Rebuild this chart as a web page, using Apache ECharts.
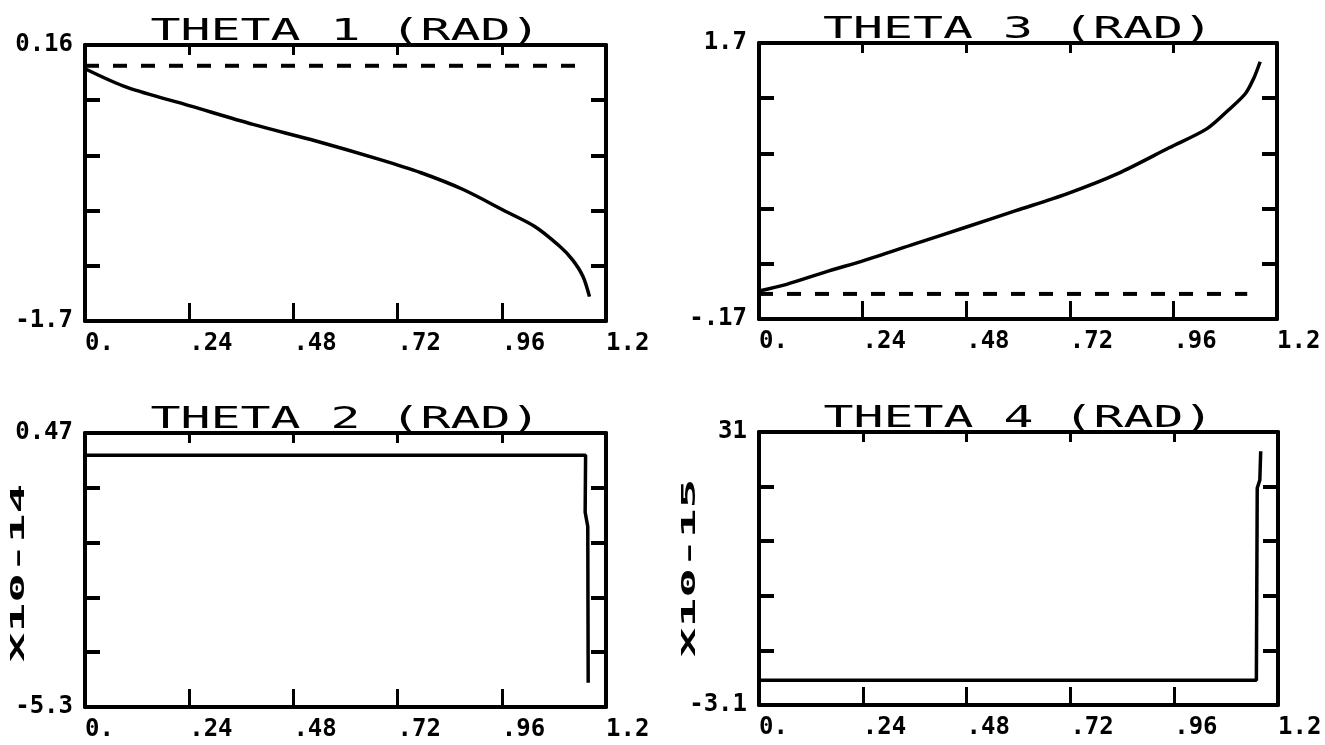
<!DOCTYPE html>
<html>
<head>
<meta charset="utf-8">
<script src="https://cdn.jsdelivr.net/npm/echarts@6/dist/echarts.min.js"></script>
<style>
html, body { margin: 0; background: #fff; }
#main { width: 1325px; height: 745px; }
</style>
</head>
<body>
<div id="main"></div>
<script>
// x axis (shared by all four panels)
var xTickLabels = ['0.', '.24', '.48', '.72', '.96', '1.2'];

// THETA 1 : solid curve + dashed reference
var theta1 = [[0, 0], [0.097, -0.126], [0.242, -0.25], [0.387, -0.375], [0.532, -0.487],
    [0.678, -0.611], [0.774, -0.701], [0.871, -0.814], [0.968, -0.96], [1.036, -1.063],
    [1.094, -1.198], [1.123, -1.288], [1.147, -1.40], [1.162, -1.536]];
var theta1Ref = [[0, 0.02], [1.138, 0.02]];

// THETA 3
var theta3 = [[0, 0.02], [0.064, 0.065], [0.162, 0.156], [0.241, 0.224], [0.359, 0.337],
    [0.477, 0.45], [0.595, 0.564], [0.713, 0.678], [0.831, 0.815], [0.95, 0.99],
    [1.038, 1.12], [1.087, 1.244], [1.127, 1.358], [1.146, 1.46], [1.161, 1.573]];
var theta3Ref = [[0, 0], [1.131, 0]];

// THETA 2 (x10-14)
var theta2 = [[0, 0], [1.153, 0], [1.152, -1.2], [1.158, -1.5], [1.159, -4.79]];

// THETA 4 (x10-15)
var theta4 = [[0, 0], [1.15, 0], [1.152, 24], [1.158, 25], [1.16, 28.6]];

// y axis ranges and end labels
var yRange1 = [-1.7, 0.16], yLabels1 = ['-1.7', '0.16'];
var yRange3 = [-0.17, 1.7], yLabels3 = ['-.17', '1.7'];
var yRange2 = [-5.3, 0.47], yLabels2 = ['-5.3', '0.47'];
var yRange4 = [-3.1, 31], yLabels4 = ['-3.1', '31'];

var font = "'DejaVu Sans Mono', monospace";

var panels = [
    { title: 'THETA 1 (RAD)', range: yRange1, labels: yLabels1, solid: theta1, dashed: theta1Ref,
      smooth: 0.3, left: 85, top: 45, width: 521, height: 276 },
    { title: 'THETA 3 (RAD)', range: yRange3, labels: yLabels3, solid: theta3, dashed: theta3Ref,
      smooth: 0.3, left: 759, top: 43, width: 518, height: 276 },
    { title: 'THETA 2 (RAD)', range: yRange2, labels: yLabels2, solid: theta2, name: 'X10-14',
      nameX: 19, nameY: 573, left: 85, top: 433, width: 521, height: 274 },
    { title: 'THETA 4 (RAD)', range: yRange4, labels: yLabels4, solid: theta4, name: 'X10-15',
      nameX: 690, nameY: 568, left: 759, top: 432, width: 519, height: 273 }
];

var black = '#000';
var grids = [], xAxes = [], yAxes = [], series = [], graphics = [];

panels.forEach(function (p, i) {
    var min = p.range[0], max = p.range[1];
    var step = (max - min) / 5;
    var yTicks = [min + step, min + 2 * step, min + 3 * step, min + 4 * step];

    grids.push({ left: p.left, top: p.top, width: p.width, height: p.height,
        containLabel: false, outerBoundsMode: 'none' });

    ['bottom', 'top'].forEach(function (pos) {
        xAxes.push({
            gridIndex: i,
            type: 'value',
            position: pos,
            min: 0,
            max: 1.2,
            interval: 0.24,
            axisLine: { show: true, onZero: false, lineStyle: { color: black, width: 4 } },
            axisTick: { show: true, inside: true, length: pos == 'bottom' ? 18 : 10,
                lineStyle: { color: black, width: 3 } },
            axisLabel: {
                show: pos == 'bottom',
                align: 'left',
                margin: 11,
                color: black,
                fontFamily: font,
                fontSize: 24,
                fontWeight: 'bold',
                showMinLabel: true,
                showMaxLabel: true,
                formatter: function (v) { return xTickLabels[Math.round(v / 0.24)]; }
            },
            splitLine: { show: false }
        });
    });

    ['left', 'right'].forEach(function (pos) {
        yAxes.push({
            gridIndex: i,
            type: 'value',
            position: pos,
            min: min,
            max: max,
            axisLine: { show: true, onZero: false, lineStyle: { color: black, width: 4 } },
            axisTick: { show: true, inside: true, length: 15, customValues: yTicks,
                lineStyle: { color: black, width: 4 } },
            axisLabel: {
                show: pos == 'left',
                customValues: [min, max],
                margin: 12,
                color: black,
                fontFamily: font,
                fontSize: 24,
                fontWeight: 'bold',
                showMinLabel: true,
                showMaxLabel: true,
                formatter: function (v) { return Math.abs(v - min) < 1e-9 ? p.labels[0] : p.labels[1]; }
            },
            splitLine: { show: false }
        });
    });

    series.push({
        type: 'line',
        xAxisIndex: 2 * i,
        yAxisIndex: 2 * i,
        data: p.solid,
        symbol: 'none',
        smooth: p.smooth || false,
        lineStyle: { color: black, width: 3.5 },
        z: 3
    });
    if (p.dashed) {
        series.push({
            type: 'line',
            xAxisIndex: 2 * i,
            yAxisIndex: 2 * i,
            data: p.dashed,
            symbol: 'none',
            lineStyle: { color: black, width: 4, type: [14, 14] },
            z: 3
        });
    }

    graphics.push({
        type: 'text',
        x: p.left + p.width / 2,
        y: p.top - 13,
        scaleX: 1.66,
        style: { text: p.title, fontFamily: font, fontSize: 30, fill: black,
            align: 'center', verticalAlign: 'middle',
            textAlign: 'center', textVerticalAlign: 'middle' }
    });
    if (p.name) {
        graphics.push({
            type: 'text',
            x: p.nameX,
            y: p.nameY,
            rotation: Math.PI / 2,
            scaleX: 2.6,
            style: { text: p.name, fontFamily: font, fontSize: 19, fontWeight: 'bold', fill: black,
                align: 'center', verticalAlign: 'middle',
                textAlign: 'center', textVerticalAlign: 'middle' }
        });
    }
});

var myChart = echarts.init(document.getElementById('main'));
option = {
    backgroundColor: '#fff',
    animation: false,
    grid: grids,
    xAxis: xAxes,
    yAxis: yAxes,
    series: series,
    graphic: graphics
};
myChart.setOption(option);
</script>
</body>
</html>
